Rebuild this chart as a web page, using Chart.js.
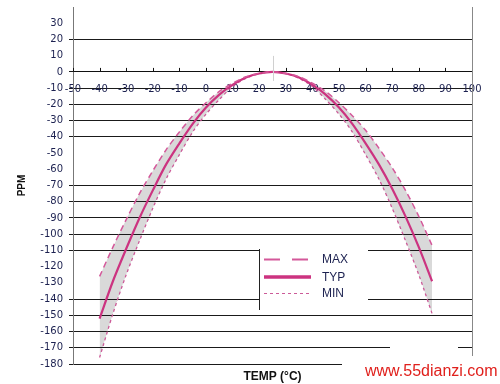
<!DOCTYPE html>
<html><head><meta charset="utf-8">
<script src="https://cdn.jsdelivr.net/npm/chart.js@4.4.1/dist/chart.umd.min.js"></script>
<style>html,body{margin:0;padding:0;background:#fff;}canvas{display:block;}</style>
</head><body>
<canvas id="c" width="500" height="384"></canvas>
<script>
// ---- data ----
const temps  = [-40,-35,-30,-25,-20,-15,-10,-5,0,5,10,15,20,25,30,35,40,45,50,55,60,65,70,75,80,85];
const maxPPM = [-126,-108,-91,-75,-61,-48,-37,-27,-19,-12,-7,-3,-1,0,-1,-3,-7,-12,-19,-27,-36,-47,-59,-73,-89,-107];
const typPPM = [-152,-129,-109,-90,-73,-57,-44,-32,-22,-14,-8,-3.5,-1,0,-1,-3.5,-8,-14,-22,-32,-44,-57,-72,-89,-108,-129];
const minPPM = [-176,-149,-125,-104,-84,-66,-51,-37,-26,-17,-9,-4,-1,0,-1,-4,-9,-17,-26,-37,-51,-66,-84,-104,-125,-149];
const seriesNames = ['MAX','TYP','MIN'];
const xRange = [-50, 100];
const yRange = [-180, 40];
const yGridValues = [20,0,-10,-20,-30,-40,-70,-80,-90,-100,-110,-140,-150,-160,-170,-180];
const xTitle = 'TEMP (°C)';
const yTitle = 'PPM';
const watermark = 'www.55dianzi.com';

const toPts = arr => temps.map((t,i)=>({x:t,y:arr[i]}));
const LBL = '#1c2150';
const styles = [
  {color:'#d4589a', width:1.5, dash:[6,4], lDash:[16,12], lWidth:2},
  {color:'#cc3380', width:2.2, dash:[], lDash:[], lWidth:3.5},
  {color:'#cc5a98', width:1.3, dash:[3,3], lDash:[3,3], lWidth:1}
];

const decor = {
  id:'decor',
  afterDatasetsDraw(chart){
    const c = chart.ctx;
    c.save();
    c.fillStyle = '#fff';
    c.fillRect(260, 246, 108, 63);
    c.strokeStyle = '#222'; c.lineWidth = 1;
    c.beginPath(); c.moveTo(259.5, 249); c.lineTo(259.5, 310); c.stroke();
    const ys = [259.5, 277, 293.5];
    seriesNames.forEach((n,i)=>{
      const s = styles[i];
      c.strokeStyle = s.color; c.lineWidth = s.lWidth; c.setLineDash(s.lDash);
      c.beginPath(); c.moveTo(264, ys[i]); c.lineTo(311, ys[i]); c.stroke();
      c.setLineDash([]);
      c.fillStyle = LBL; c.font = '12px "Liberation Sans", Arial, sans-serif';
      c.textAlign = 'left'; c.textBaseline = 'middle';
      c.fillText(n, 322, ys[i]+0.5);
    });
    c.restore();
  },
  afterDraw(chart){
    const c = chart.ctx, xs = chart.scales.x, ysc = chart.scales.y, a = chart.chartArea;
    const y0 = ysc.getPixelForValue(0);
    c.save();
    c.strokeStyle = '#111'; c.lineWidth = 1;
    xs.ticks.forEach(t=>{
      const px = Math.round(xs.getPixelForValue(t.value)) + 0.5;
      c.beginPath(); c.moveTo(px, y0 - 4); c.lineTo(px, y0); c.stroke();
    });
    c.strokeStyle = '#d0d0d0';
    const pk = Math.round(xs.getPixelForValue(25)) + 0.5;
    c.beginPath(); c.moveTo(pk, y0 - 16); c.lineTo(pk, y0 + 9); c.stroke();
    c.strokeStyle = '#888';
    c.beginPath(); c.moveTo(Math.round(a.right)+0.5, a.top); c.lineTo(Math.round(a.right)+0.5, a.bottom); c.stroke();
    c.fillStyle = '#111'; c.font = 'bold 12px "Liberation Sans", Arial, sans-serif';
    c.textAlign = 'center'; c.textBaseline = 'middle';
    c.fillText(xTitle, (a.left + a.right)/2, 377);
    c.fillStyle = '#fff';
    c.fillRect(342, 356, 158, 28);
    c.fillRect(390, 342, 68, 14);
    c.fillStyle = '#e0201c'; c.font = '16px "Liberation Sans", Arial, sans-serif';
    c.textAlign = 'left'; c.textBaseline = 'middle';
    c.fillText(watermark, 365, 372);
    c.restore();
  }
};

new Chart(document.getElementById('c').getContext('2d'), {
  type:'line',
  data:{datasets: seriesNames.map((n,i)=>({
    label:n,
    data: toPts([maxPPM,typPPM,minPPM][i]),
    borderColor: styles[i].color,
    borderWidth: styles[i].width,
    borderDash: styles[i].dash,
    pointRadius:0,
    tension:0.3,
    fill: i===0 ? '+2' : false,
    backgroundColor: i===0 ? '#d9d9d9' : 'transparent'
  }))},
  plugins:[decor],
  options:{
    responsive:false, animation:false, devicePixelRatio:1,
    layout:{padding:{left:0, top:7, right:28, bottom:20}},
    plugins:{legend:{display:false}, tooltip:{enabled:false}, filler:{drawTime:'beforeDraw'}},
    scales:{
      x:{type:'linear', min:xRange[0], max:xRange[1], position:{y:0},
        ticks:{stepSize:10, padding:11, color:LBL, font:{family:'DejaVu Sans', size:10}, maxRotation:0, autoSkip:false},
        grid:{drawOnChartArea:false, drawTicks:false},
        border:{display:true, color:'#111', width:1},
        afterFit: s => { s.paddingTop = 0; s.paddingBottom = 0; s.height = 0; }},
      y:{type:'linear', min:yRange[0], max:yRange[1],
        ticks:{stepSize:10, padding:6, color:LBL, font:{family:'DejaVu Sans', size:10}, autoSkip:false,
          callback: v => v === yRange[1] ? '' : v},
        grid:{color: ctx => (ctx.tick && yGridValues.includes(ctx.tick.value)) ? '#1a1a1a' : 'rgba(0,0,0,0)', tickLength:4, lineWidth:1},
        border:{display:true, color:'#777', width:1},
        title:{display:true, text:yTitle, color:'#111', font:{family:'Liberation Sans', size:10, weight:'bold'}, padding:{top:16, bottom:0}},
        afterFit: s => { s.width = 73; s.paddingTop = 0; s.paddingBottom = 0; }}
    }
  }
});
</script>
</body></html>
